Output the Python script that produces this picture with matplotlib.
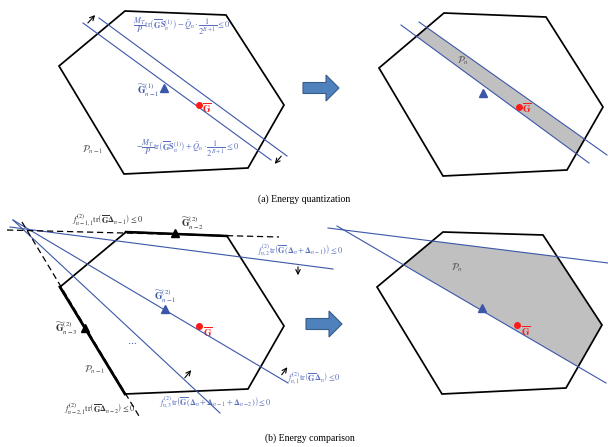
import numpy as np
import matplotlib
matplotlib.use("Agg")
from matplotlib import pyplot as plt
from matplotlib.patches import Polygon, FancyArrow

plt.rcParams['mathtext.fontset'] = 'stix'
plt.rcParams['font.family'] = ['Liberation Serif', 'DejaVu Serif']

# ---- diagram geometry (pixel coordinates, y grows downward) ----
hex_a_left = [(125, 11), (226, 15), (284, 105), (248, 168), (124, 174), (59, 66)]
hex_a_right = [(444, 13), (546, 17), (603, 107), (567, 170), (443, 176), (379, 68)]
hex_b_left = [(126, 232), (227, 236), (284, 326), (248, 389), (125, 394), (60, 287)]
hex_b_right = [(443, 232), (543, 235), (602, 325), (566, 388), (442, 394), (377, 287)]

# quantization cuts (panel a)
cut_a_left = [((99, 18), (287, 156)), ((83, 23), (271, 160))]
cut_a_right = [((419, 22), (607, 155)), ((401, 25), (589, 163))]

# comparison cuts (panel b)
dashed_b = [((7, 230), (279, 237)), ((22, 222), (139, 416))]
cut_b_left = [((10, 227), (333, 269)), ((13, 220), (288, 383)), ((13, 220), (220, 413))]
cut_b_right = [((328, 228), (608, 263)), ((337, 226), (606, 383))]

# points: (x, y)
tri_a = [(164, 88), (483, 93)]
gbar_a = [(199, 105), (519, 107)]
tri_b_blue = [(165, 309), (482, 308)]
tri_b_black = [(175, 233), (85, 328)]
gbar_b = [(199, 326), (517, 325)]

# small normal arrows: (start, end)
normals = [((86, 25), (97, 13)), ((283, 154), (273, 166)),
           ((298, 264), (298, 278)), ((183, 380), (193, 368)), ((280, 377), (289, 365))]

BLUE = '#3b57a8'
BLUE_TXT = '#5b6fbf'
RED = '#ff1a1a'
GRAY = '#c0c0c0'
DARK = '#333333'


def clip(poly, p0, p1, keep_point):
    # Sutherland-Hodgman clip of poly against line p0-p1, keeping side of keep_point
    p0, p1 = np.array(p0, float), np.array(p1, float)
    d = p1 - p0

    def side(p):
        return d[0] * (p[1] - p0[1]) - d[1] * (p[0] - p0[0])
    s_keep = np.sign(side(keep_point))
    out = []
    pts = [np.array(p, float) for p in poly]
    for i in range(len(pts)):
        a, b = pts[i], pts[(i + 1) % len(pts)]
        sa, sb = side(a) * s_keep, side(b) * s_keep
        if sa >= 0:
            out.append(a)
        if sa * sb < 0:
            t = sa / (sa - sb)
            out.append(a + t * (b - a))
    return out


fig = plt.figure(figsize=(6.08, 4.47), dpi=100)
ax = fig.add_axes([0, 0, 1, 1])
ax.set_xlim(0, 608)
ax.set_ylim(447, 0)
ax.axis('off')

# gray feasible regions
region_a = clip(hex_a_right, *cut_a_right[0], keep_point=(401, 60))
region_a = clip(region_a, *cut_a_right[1], keep_point=(450, 30))
ax.add_patch(Polygon(region_a, closed=True, facecolor=GRAY, edgecolor='none', zorder=1))
region_b = clip(hex_b_right, *cut_b_right[0], keep_point=(500, 300))
region_b = clip(region_b, *cut_b_right[1], keep_point=(500, 260))
ax.add_patch(Polygon(region_b, closed=True, facecolor=GRAY, edgecolor='none', zorder=1))

# hexagons
for h in [hex_a_left, hex_a_right, hex_b_left, hex_b_right]:
    ax.add_patch(Polygon(h, closed=True, fill=False, edgecolor='black', lw=1.25, zorder=3))

# thicker edges along the dashed constraints in panel b
ax.plot([60, 125], [287, 394], color='black', lw=2.0, zorder=3)
ax.plot([126, 227], [232, 236], color='black', lw=1.8, zorder=3)

for (p, q) in cut_a_left + cut_a_right + cut_b_left + cut_b_right:
    ax.plot([p[0], q[0]], [p[1], q[1]], color=BLUE, lw=0.8, zorder=4)
for (p, q) in dashed_b:
    ax.plot([p[0], q[0]], [p[1], q[1]], color='black', lw=0.9, ls=(0, (5, 3)), zorder=4)

for (p, q) in normals:
    ax.annotate('', xy=q, xytext=p,
                arrowprops=dict(arrowstyle='->', color='black', lw=0.8, mutation_scale=8), zorder=5)

for x, y in tri_a + tri_b_blue:
    ax.plot(x, y, marker='^', color=BLUE, ms=6, zorder=6)
for x, y in tri_b_black:
    ax.plot(x, y, marker='^', color='black', ms=5.5, zorder=6)
for x, y in gbar_a + gbar_b:
    ax.plot(x, y, marker='o', color=RED, ms=4, zorder=6)

# big block arrows between panels
for x0, y0 in [(303, 88), (306, 324)]:
    ax.add_patch(FancyArrow(x0, y0, 36, 0, width=11, head_width=26, head_length=13,
                            length_includes_head=True, facecolor='#4f81bd',
                            edgecolor='#385d8a', lw=0.8, zorder=5))

# ---- texts ----
fs = 6
Gb = r'\overline{\mathbf{G}}'
ax.text(182, 26, r'$\dfrac{M_T}{P}\mathrm{tr}\left(' + Gb + r'\mathbf{S}_n^{(1)}\right)-\tilde{Q}_n\cdot\dfrac{1}{2^{B+1}}\leq 0$',
        color=BLUE_TXT, fontsize=fs, ha='center', va='center')
ax.text(188, 148, r'$-\dfrac{M_T}{P}\mathrm{tr}\left(' + Gb + r'\mathbf{S}_n^{(1)}\right)+\tilde{Q}_n\cdot\dfrac{1}{2^{B+1}}\leq 0$',
        color=BLUE_TXT, fontsize=fs, ha='center', va='center')
ax.text(159, 90, r'$\widetilde{\mathbf{G}}_{n-1}^{(1)}$', color=BLUE, fontsize=7, ha='right', va='center')
ax.text(202, 108, r'$' + Gb + '$', color=RED, fontsize=7, ha='left', va='center')
ax.text(93, 150, r'$\mathcal{P}_{n-1}$', color='#555555', fontsize=7, ha='center', va='center')
ax.text(522, 108, r'$' + Gb + '$', color=RED, fontsize=7, ha='left', va='center')
ax.text(463, 61, r'$\mathcal{P}_n$', color='#555555', fontsize=7, ha='center', va='center')
ax.text(304, 199, '(a) Energy quantization', fontsize=7, ha='center', va='center')

ax.text(108, 220, r'$f_{n-1,1}^{(2)}\mathrm{tr}\left(' + Gb + r'\mathbf{\Delta}_{n-1}\right)\leq 0$',
        color=DARK, fontsize=fs, ha='center', va='center')
ax.text(193, 223, r'$\widetilde{\mathbf{G}}_{n-2}^{(2)}$', color=DARK, fontsize=7, ha='center', va='center')
ax.text(300, 250, r'$f_{n,2}^{(2)}\mathrm{tr}\left(' + Gb + r'\left(\mathbf{\Delta}_n+\mathbf{\Delta}_{n-1}\right)\right)\leq 0$',
        color=BLUE_TXT, fontsize=fs, ha='center', va='center')
ax.text(165, 296, r'$\widetilde{\mathbf{G}}_{n-1}^{(2)}$', color=BLUE, fontsize=7, ha='center', va='center')
ax.text(78, 328, r'$\widetilde{\mathbf{G}}_{n-3}^{(2)}$', color=DARK, fontsize=7, ha='right', va='center')
ax.text(203, 332, r'$' + Gb + '$', color=RED, fontsize=7, ha='left', va='center')
ax.text(132, 342, r'$\cdots$', color=BLUE, fontsize=7, ha='center', va='center')
ax.text(95, 370, r'$\mathcal{P}_{n-1}$', color='#555555', fontsize=7, ha='center', va='center')
ax.text(314, 378, r'$f_{n,1}^{(2)}\mathrm{tr}\left(' + Gb + r'\mathbf{\Delta}_n\right)\leq 0$',
        color=BLUE_TXT, fontsize=fs, ha='center', va='center')
ax.text(215, 402, r'$f_{n,3}^{(2)}\mathrm{tr}\left(' + Gb + r'\left(\mathbf{\Delta}_n+\mathbf{\Delta}_{n-1}+\mathbf{\Delta}_{n-2}\right)\right)\leq 0$',
        color=BLUE_TXT, fontsize=fs, ha='center', va='center')
ax.text(100, 409, r'$f_{n-2,1}^{(2)}\mathrm{tr}\left(' + Gb + r'\mathbf{\Delta}_{n-2}\right)\leq 0$',
        color=DARK, fontsize=fs, ha='center', va='center')
ax.text(521, 331, r'$' + Gb + '$', color=RED, fontsize=7, ha='left', va='center')
ax.text(457, 268, r'$\mathcal{P}_n$', color='#555555', fontsize=7, ha='center', va='center')
ax.text(310, 438, '(b) Energy comparison', fontsize=7, ha='center', va='center')

fig.savefig('out.png', dpi=100)
